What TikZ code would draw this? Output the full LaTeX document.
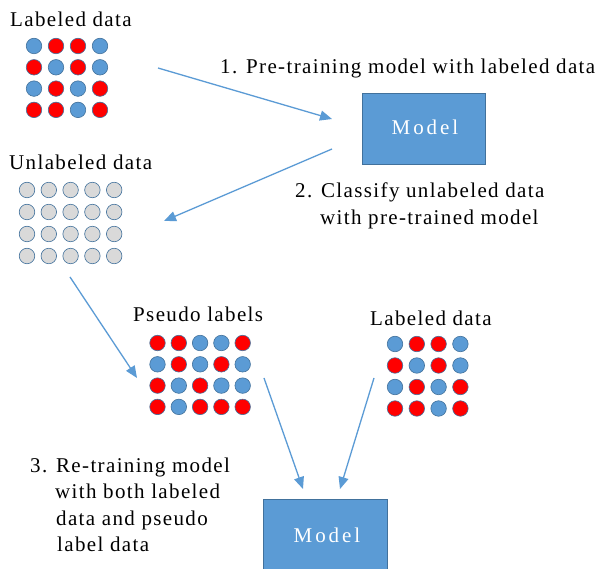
\documentclass[tikz,border=0pt]{standalone}
\usepackage{fontspec}
\setmainfont{Liberation Serif}[LetterSpace=6.5]
\usetikzlibrary{arrows.meta}
\definecolor{dB}{HTML}{5B9BD5}
\definecolor{dR}{HTML}{FF0000}
\definecolor{dG}{HTML}{D9D9D9}
\definecolor{dO}{HTML}{41719C}
\tikzset{
  dot/.style={circle, draw=dO, line width=0.6pt, minimum size=15.5pt, inner sep=0pt},
  lbl/.style={anchor=base west, inner sep=0pt, font=\fontsize{21}{25}\selectfont},
  modelbox/.style={rectangle, fill=dB, draw=dO, line width=0.6pt, inner sep=0pt},
  modeltxt/.style={anchor=base, inner sep=0pt, text=white, font=\fontsize{21}{25}\selectfont\addfontfeature{LetterSpace=14}},
  flow/.style={draw=dB, line width=1.3pt, -{Triangle[length=12pt,width=10pt]}, shorten >=0pt}
}
\begin{document}
\begin{tikzpicture}[x=1pt,y=-1pt]
\useasboundingbox (0,0) rectangle (611,569);
\fill[white] (0,0) rectangle (611,569);

% texts
\node[lbl] (t1) at (10,27) {Labeled data};
\node[lbl] (t2) at (9,170) {Unlabeled data};
\node[lbl] (t3) at (133,322) {Pseudo labels};
\node[lbl] (t4) at (370,326) {Labeled data};
\node[lbl] (s1) at (220,74) {1. Pre-training model with labeled data};
\node[lbl] (s2a) at (295,198) {2. Classify unlabeled data};
\node[lbl] (s2b) at (320,225) {with pre-trained model};
\node[lbl] (s3a) at (30,472) {3. Re-training model};
\node[lbl] (s3b) at (55,498) {with both labeled};
\node[lbl] (s3c) at (56,525) {data and pseudo};
\node[lbl] (s3d) at (57,551) {label data};

% model boxes
\path[modelbox] (362,93) rectangle (485,164);
\node[modeltxt] (m1) at (425,135) {Model};
\path[modelbox] (263,499) rectangle (387,575);
\node[modeltxt] (m2) at (327,542) {Model};

% grid 1 (labeled)
\foreach \row [count=\r] in {{dB,dR,dR,dB},{dR,dB,dR,dB},{dB,dR,dB,dR},{dR,dR,dB,dR}}{
  \foreach \c [count=\k] in \row {
    \node[dot, fill=\c] (ga-\r-\k) at ({34+(\k-1)*22},{46+(\r-1)*21.3}) {};
  }
}
% grid 2 (unlabeled)
\foreach \r in {1,...,4}{
  \foreach \k in {1,...,5}{
    \node[dot, fill=dG] (gb-\r-\k) at ({27+(\k-1)*21.8},{190+(\r-1)*22}) {};
  }
}
% grid 3 (pseudo labels)
\foreach \row [count=\r] in {{dR,dR,dB,dB,dR},{dB,dR,dB,dR,dB},{dR,dB,dR,dB,dB},{dR,dB,dR,dR,dR}}{
  \foreach \c [count=\k] in \row {
    \node[dot, fill=\c] (gc-\r-\k) at ({157.5+(\k-1)*21.3},{343+(\r-1)*21.3}) {};
  }
}
% grid 4 (labeled)
\foreach \row [count=\r] in {{dB,dR,dR,dB},{dR,dB,dR,dB},{dB,dR,dB,dR},{dR,dR,dB,dR}}{
  \foreach \c [count=\k] in \row {
    \node[dot, fill=\c] (gd-\r-\k) at ({395+(\k-1)*21.8},{344+(\r-1)*21.5}) {};
  }
}

% arrow end points
\coordinate (a1s) at (158,68);
\coordinate (a1e) at (332,119);
\coordinate (a2s) at (332,149);
\coordinate (a2e) at (164,221);
\coordinate (a3s) at (70,277);
\coordinate (a3e) at (137,378);
\coordinate (a4s) at (264,378);
\coordinate (a4e) at (303,489);
\coordinate (a5s) at (374,378);
\coordinate (a5e) at (340,489);

\draw[flow] (a1s) -- (a1e);
\draw[flow] (a2s) -- (a2e);
\draw[flow] (a3s) -- (a3e);
\draw[flow] (a4s) -- (a4e);
\draw[flow] (a5s) -- (a5e);
\end{tikzpicture}
\end{document}
